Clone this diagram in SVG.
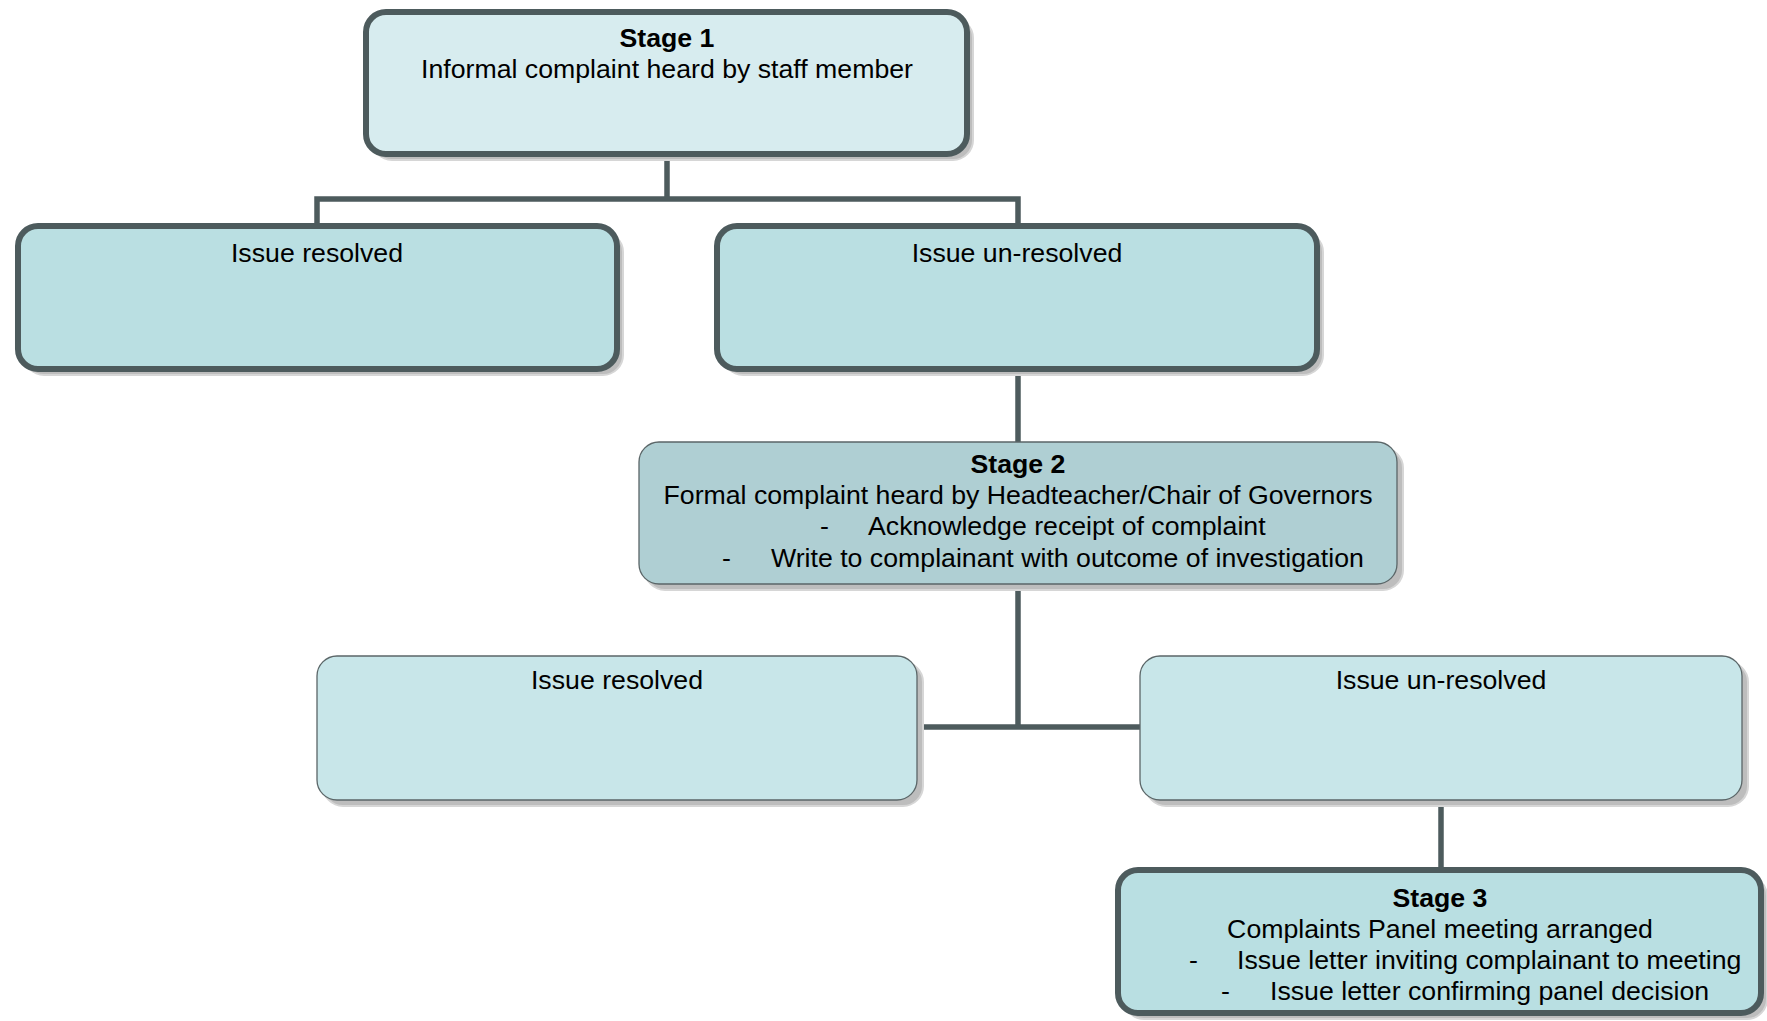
<svg xmlns="http://www.w3.org/2000/svg" width="1767" height="1021" viewBox="0 0 1767 1021">
<style>
  text { font-family: "Liberation Sans", Arial, sans-serif; font-size: 26.7px; fill: #000; }
  .b { font-weight: bold; }
  .c { text-anchor: middle; }
  .sh { fill: #bdbdbd; stroke: #d6d6d6; stroke-width: 2; }
  .thick { stroke: #4d5b5d; stroke-width: 6; }
  .thin { stroke: #5b6668; stroke-width: 1.3; }
  .conn { fill: none; stroke: #4d5b5d; stroke-width: 5.5; }
</style>
<rect width="1767" height="1021" fill="#ffffff"/>
<g id="connectors">
  <path class="conn" d="M667,154 V199 M317,226 V199 H1018 V226"/>
  <path class="conn" d="M1018,369 V442"/>
  <path class="conn" d="M1018,584 V727 M917,727 H1140"/>
  <path class="conn" d="M1441,800 V870"/>
</g>
<g id="stage1">
  <rect class="sh" x="372" y="18" width="601" height="142" rx="20"/>
  <rect class="thick" x="366" y="12" width="601" height="142" rx="20" fill="#d7ecef" stroke-width="6.5"/>
  <text class="b c" x="667" y="47">Stage 1</text>
  <text class="c" x="667" y="78">Informal complaint heard by staff member</text>
</g>
<g id="resolved1">
  <rect class="sh" x="24" y="232" width="599" height="143" rx="20"/>
  <rect class="thick" x="18" y="226" width="599" height="143" rx="20" fill="#badfe2"/>
  <text class="c" x="317" y="262">Issue resolved</text>
</g>
<g id="unresolved1">
  <rect class="sh" x="723" y="232" width="600" height="143" rx="20"/>
  <rect class="thick" x="717" y="226" width="600" height="143" rx="20" fill="#badfe2"/>
  <text class="c" x="1017" y="262">Issue un-resolved</text>
</g>
<g id="stage2">
  <rect class="sh" x="645" y="448" width="758" height="142" rx="20" stroke="none"/>
  <rect class="thin" x="639" y="442" width="758" height="142" rx="20" fill="#afcfd3"/>
  <text class="b c" x="1018" y="473">Stage 2</text>
  <text class="c" x="1018" y="504">Formal complaint heard by Headteacher/Chair of Governors</text>
  <text x="820" y="535">-</text>
  <text x="868" y="535">Acknowledge receipt of complaint</text>
  <text x="722" y="567">-</text>
  <text x="771" y="567">Write to complainant with outcome of investigation</text>
</g>
<g id="resolved2">
  <rect class="sh" x="323" y="662" width="600" height="144" rx="20" stroke="none"/>
  <rect class="thin" x="317" y="656" width="600" height="144" rx="20" fill="#c8e6e9"/>
  <text class="c" x="617" y="689">Issue resolved</text>
</g>
<g id="unresolved2">
  <rect class="sh" x="1146" y="662" width="602" height="144" rx="20" stroke="none"/>
  <rect class="thin" x="1140" y="656" width="602" height="144" rx="20" fill="#c8e6e9"/>
  <text class="c" x="1441" y="689">Issue un-resolved</text>
</g>
<g id="stage3">
  <rect class="sh" x="1124" y="876" width="643" height="143" rx="20"/>
  <rect class="thick" x="1118" y="870" width="643" height="143" rx="20" fill="#b9dfe2"/>
  <text class="b c" x="1440" y="907">Stage 3</text>
  <text class="c" x="1440" y="938">Complaints Panel meeting arranged</text>
  <text x="1189" y="969">-</text>
  <text x="1237" y="969">Issue letter inviting complainant to meeting</text>
  <text x="1221" y="1000">-</text>
  <text x="1270" y="1000">Issue letter confirming panel decision</text>
</g>
</svg>
